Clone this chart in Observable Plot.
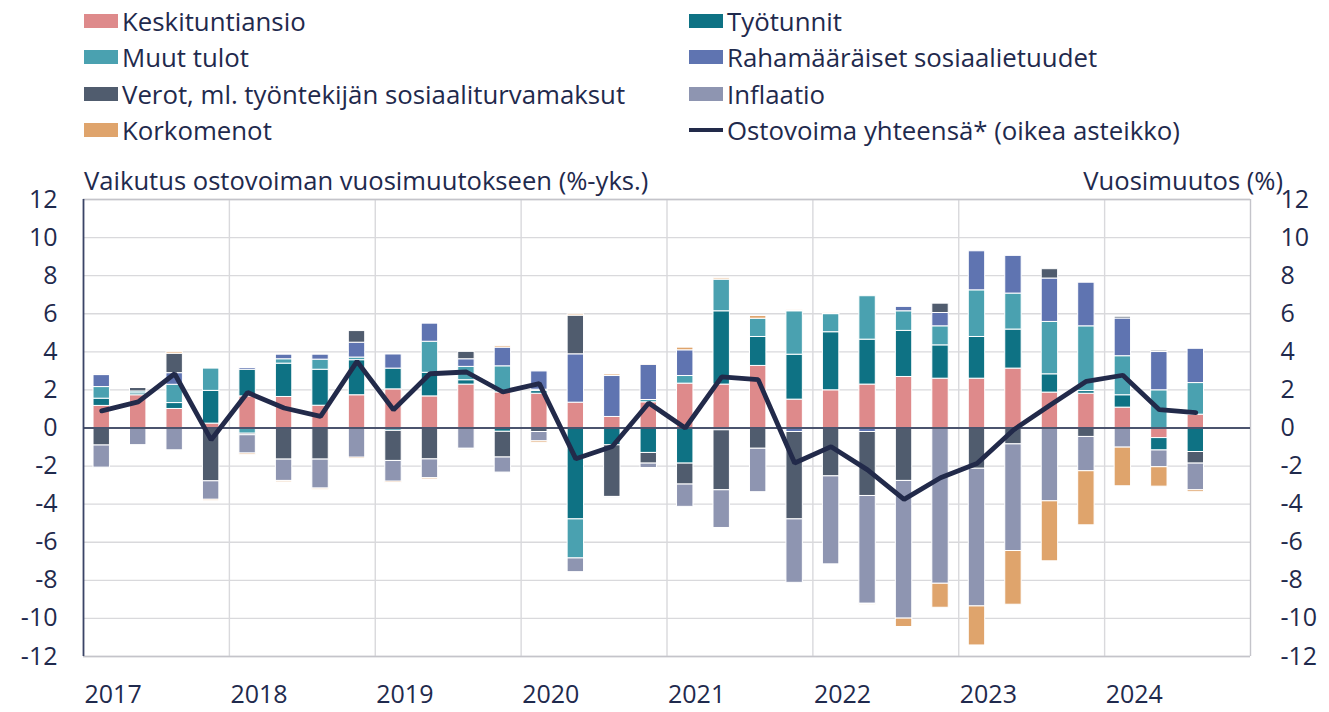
<!DOCTYPE html>
<html>
<head>
<meta charset="utf-8">
<script src="https://cdn.jsdelivr.net/npm/d3@7"></script>
<script src="https://cdn.jsdelivr.net/npm/@observablehq/plot@0.6"></script>
<style>
  body { margin: 0; background: #fff; font-family: "Open Sans", Lato, sans-serif; color: #1f2a4d; }
  #wrap { position: relative; width: 1329px; height: 712px; overflow: hidden; }
  #head { position: relative; height: 160px; }
  .item { position: absolute; height: 30px; display: flex; align-items: center; font-size: 25.8px; white-space: nowrap; }
  .sw { width: 34px; height: 14px; margin-right: 4px; flex: none; }
  .ln { width: 34px; height: 4px; margin-right: 4px; flex: none; }
  .title { position: absolute; font-size: 25.6px; white-space: nowrap; height: 30px; line-height: 30px; z-index: 2; }
  #chart { position: absolute; left: 0; top: 160px; }
</style>
</head>
<body>
<div id="wrap">
  <div id="head"></div>
  <div id="chart"></div>
</div>
<script>
// ---- Data ----
const years = [2017, 2018, 2019, 2020, 2021, 2022, 2023, 2024];
const quarters = years.flatMap(y => ["Q1", "Q2", "Q3", "Q4"].map(q => y + q)); // 32 slots, last one empty

const seriesNames = [
  "Keskituntiansio",
  "Työtunnit",
  "Muut tulot",
  "Rahamääräiset sosiaalietuudet",
  "Verot, ml. työntekijän sosiaaliturvamaksut",
  "Inflaatio",
  "Korkomenot"
];
const seriesColors = ["#de8a8b", "#0e7284", "#4aa1b0", "#5f74b1", "#505c6e", "#8e95b1", "#dfa46c"];
const lineName = "Ostovoima yhteensä* (oikea asteikko)";
const lineColor = "#222a4a";

// contributions, %-points, 2017Q1 ... 2024Q3
const keskituntiansio = [1.16, 1.72, 1.0, 0.23, 1.66, 1.63, 1.17, 1.72, 2.03, 1.66, 2.28, 1.87, 1.8, 1.33, 0.58, 1.35, 2.33, 2.28, 3.26, 1.49, 1.98, 2.28, 2.68, 2.59, 2.59, 3.12, 1.86, 1.8, 1.07, -0.53, 0.7];
const tyotunnit      = [0.38, 0.1, 0.31, 1.72, 1.4, 1.75, 1.89, 1.84, 1.09, 1.24, 0.23, -0.2, 0.14, -4.8, -0.91, -1.31, -1.87, 3.85, 1.52, 2.36, 3.05, 2.36, 2.42, 1.75, 2.19, 2.05, 0.96, 0.14, 0.65, -0.65, -1.26];
const muutTulot      = [0.61, 0.1, 0.96, 1.17, -0.3, 0.23, 0.53, 0.14, -0.15, 1.63, 0.7, 1.37, 0.07, -2.05, 0, 0.12, 0.4, 1.66, 0.96, 2.28, 0.95, 2.28, 1.03, 1.0, 2.45, 1.89, 2.75, 3.4, 2.05, 1.98, 1.66];
const sosiaalietuudet= [0.63, 0, 0.61, 0, 0.09, 0.24, 0.26, 0.78, 0.74, 0.95, 0.4, 0.98, 0.96, 2.54, 2.15, 1.85, 1.35, -0.12, 0, -0.21, 0, -0.21, 0.23, 0.7, 2.05, 1.98, 2.28, 2.29, 1.98, 2.01, 1.8];
const verot          = [-0.92, 0.18, 1.02, -2.8, -0.08, -1.66, -1.66, 0.61, -1.58, -1.65, 0.39, -1.35, -0.21, 2.03, -2.71, -0.56, -1.1, -3.15, -1.09, -4.59, -2.54, -3.36, -2.78, 0.49, -2.14, -0.86, 0.49, -0.47, 0.09, 0.07, -0.61];
const inflaatio      = [-1.16, -0.9, -1.17, -0.97, -0.96, -1.12, -1.52, -1.56, -1.09, -0.98, -1.09, -0.79, -0.49, -0.72, -0.05, -0.23, -1.17, -1.98, -2.28, -3.33, -4.62, -5.66, -7.23, -8.18, -7.23, -5.6, -3.85, -1.8, -1.03, -0.88, -1.4];
const korkomenot     = [0.05, 0.05, 0.08, -0.07, -0.07, -0.07, -0.06, -0.07, -0.07, -0.07, -0.05, 0.08, -0.08, 0.07, 0.08, 0.05, 0.14, 0.07, 0.14, 0.05, 0.05, -0.05, -0.44, -1.26, -2.05, -2.82, -3.15, -2.84, -2.03, -1.02, -0.1];
// total purchasing power, annual change %, right axis
const ostovoima      = [0.9, 1.37, 2.85, -0.62, 1.86, 1.05, 0.61, 3.5, 0.96, 2.85, 2.94, 1.89, 2.33, -1.62, -0.97, 1.31, 0.0, 2.68, 2.54, -1.84, -0.98, -2.2, -3.75, -2.61, -1.87, -0.1, 1.2, 2.45, 2.77, 0.96, 0.81];

const yTicks = [-12, -10, -8, -6, -4, -2, 0, 2, 4, 6, 8, 10, 12];

// ---- Build tables ----
const seriesValues = [keskituntiansio, tyotunnit, muutTulot, sosiaalietuudet, verot, inflaatio, korkomenot];
const bars = [];
ostovoima.forEach((_, i) => {
  seriesValues.forEach((vals, s) => bars.push({q: quarters[i], s: seriesNames[s], v: vals[i]}));
});
const lineData = ostovoima.map((v, i) => ({q: quarters[i], v}));

// ---- Layout constants ----
const W = 1329, H = 552, mL = 83, mR = 79, mT = 39, mB = 56;
const step = (W - mL - mR) / quarters.length;

// ---- Legend (HTML) ----
const head = document.getElementById("head");
const legendItems = [
  {name: seriesNames[0], color: seriesColors[0], col: 0, row: 0},
  {name: seriesNames[1], color: seriesColors[1], col: 1, row: 0},
  {name: seriesNames[2], color: seriesColors[2], col: 0, row: 1},
  {name: seriesNames[3], color: seriesColors[3], col: 1, row: 1},
  {name: seriesNames[4], color: seriesColors[4], col: 0, row: 2},
  {name: seriesNames[5], color: seriesColors[5], col: 1, row: 2},
  {name: seriesNames[6], color: seriesColors[6], col: 0, row: 3},
  {name: lineName, color: lineColor, col: 1, row: 3, line: true}
];
const colX = [84, 689];
const rowY = [21, 57, 93.5, 129.5];
for (const it of legendItems) {
  const d = document.createElement("div");
  d.className = "item";
  d.style.left = colX[it.col] + "px";
  d.style.top = (rowY[it.row] - 15) + "px";
  const sw = document.createElement("span");
  sw.className = it.line ? "ln" : "sw";
  sw.style.background = it.color;
  d.appendChild(sw);
  d.appendChild(document.createTextNode(it.name));
  head.appendChild(d);
}
const wrap = document.getElementById("wrap");
const t1 = document.createElement("div");
t1.className = "title"; t1.style.left = "84px"; t1.style.top = (181 - 15) + "px";
t1.textContent = "Vaikutus ostovoiman vuosimuutokseen (%-yks.)";
wrap.appendChild(t1);
const t2 = document.createElement("div");
t2.className = "title"; t2.style.right = (W - 1283) + "px"; t2.style.top = (181 - 15) + "px";
t2.textContent = "Vuosimuutos (%)";
wrap.appendChild(t2);

// ---- Chart ----
const chart = Plot.plot({
  width: W, height: H,
  marginLeft: mL, marginRight: mR, marginTop: mT, marginBottom: mB,
  style: {fontFamily: "'Open Sans', Lato, sans-serif", fontSize: "25px", color: "#1f2a4d", background: "transparent", overflow: "visible"},
  x: {type: "band", domain: quarters, paddingInner: 0.55, paddingOuter: 0.275, round: false, label: null},
  y: {domain: [-12, 12], label: null},
  color: {domain: seriesNames, range: seriesColors},
  marks: [
    Plot.ruleY(yTicks, {stroke: "#d9d9dc", strokeWidth: 1.4}),
    Plot.ruleX(years.slice(1).map(y => y + "Q1"), {dx: -step / 2, stroke: "#d9d9dc", strokeWidth: 1.4}),
    Plot.ruleX([quarters[quarters.length - 1]], {dx: step / 2, stroke: "#c4c4ca", strokeWidth: 1.4}),
    Plot.ruleY([-12, 12], {stroke: "#c4c4ca", strokeWidth: 1.4}),
    Plot.barY(bars, {x: "q", y: "v", fill: "s", stroke: "white", strokeWidth: 1}),
    Plot.ruleY([0], {stroke: "#4b546e", strokeWidth: 1.8}),
    Plot.ruleX([quarters[0]], {dx: -step / 2, stroke: "#3a4466", strokeWidth: 1.8}),
    Plot.line(lineData, {x: "q", y: "v", stroke: lineColor, strokeWidth: 4.8, strokeLinejoin: "miter"}),
    Plot.axisY({anchor: "left", ticks: yTicks, tickFormat: d => String(d), tickSize: 0, tickPadding: 26, label: null}),
    Plot.axisY({anchor: "right", ticks: yTicks, tickFormat: d => String(d), tickSize: 0, tickPadding: 30, label: null, textAnchor: "start"}),
    Plot.axisX({ticks: years.map(y => y + "Q1"), tickFormat: d => d.slice(0, 4), tickSize: 0, tickPadding: 29, textAnchor: "start", dx: -step / 2 + 1, label: null})
  ]
});
document.getElementById("chart").appendChild(chart);
</script>
</body>
</html>
